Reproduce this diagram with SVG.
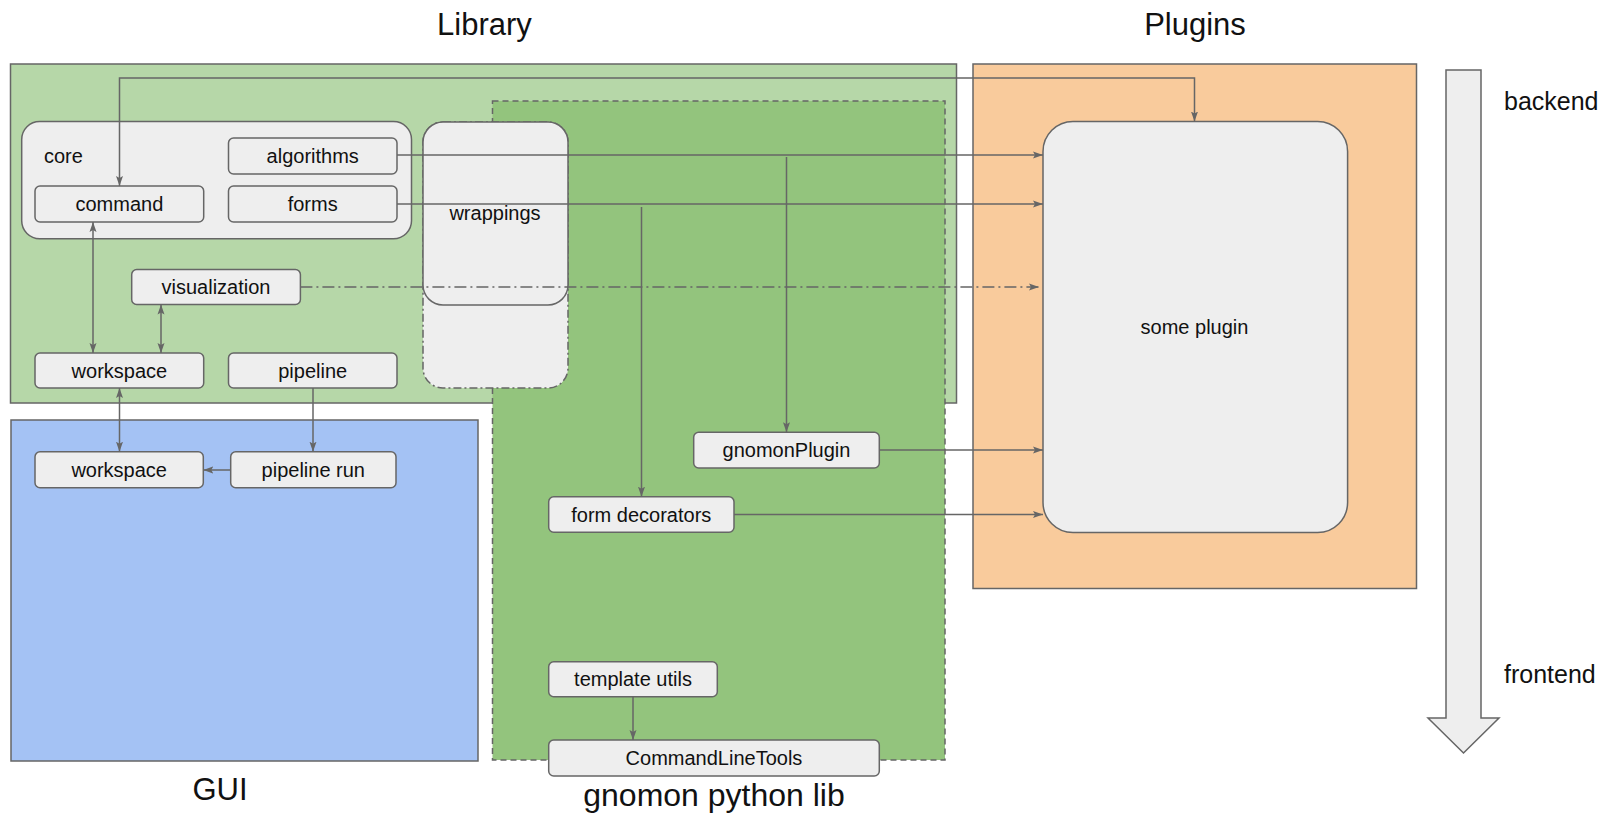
<svg xmlns="http://www.w3.org/2000/svg" width="1613" height="817" viewBox="0 0 1613 817">
<style>
.cont{stroke:#666;stroke-width:1.5}
.node{fill:#eeeeee;stroke:#666;stroke-width:1.5}
.lbl{font-family:"Liberation Sans",Arial,sans-serif;font-size:20px;fill:#111;text-anchor:middle}
.title{font-family:"Liberation Sans",Arial,sans-serif;font-size:31px;fill:#111;text-anchor:middle}
.side{font-family:"Liberation Sans",Arial,sans-serif;font-size:25px;fill:#111}
.conn{fill:none;stroke:#666;stroke-width:1.5}
</style>
<defs>
<marker id="ah" viewBox="0 0 10 8" refX="10" refY="4" markerWidth="10" markerHeight="8" orient="auto-start-reverse" markerUnits="userSpaceOnUse">
<path d="M0,0.5 L10,4 L0,7.5 L2,4 z" fill="#666"/>
</marker>
</defs>
<rect width="1613" height="817" fill="#ffffff"/>
<g id="library">
<rect class="cont" x="10.5" y="64" width="946" height="339" fill="#b6d7a8"/>
</g>
<g id="gnomon-python-lib">
<rect x="492.5" y="101" width="452.5" height="659" fill="#93c47d" stroke="#666" stroke-width="1.5" stroke-dasharray="6,4"/>
<text class="title" x="714" y="806" style="font-size:32px">gnomon python lib</text>
</g>
<g id="gui">
<rect class="cont" x="11" y="420" width="467" height="341" fill="#a4c2f4"/>
<text class="title" x="220" y="800">GUI</text>
</g>
<g id="plugins">
<rect class="cont" x="973" y="64" width="443.5" height="524.5" fill="#f9cb9c"/>
</g>
<text class="title" x="484.5" y="35">Library</text>
<text class="title" x="1195" y="35">Plugins</text>
<g id="core">
<rect class="node" x="21.7" y="121.5" width="389.8" height="117.3" rx="18"/>
<text class="lbl" x="44" y="163" style="text-anchor:start">core</text>
</g>
<g id="algorithms">
<rect class="node" x="228.5" y="138" width="168.5" height="36" rx="5"/>
<text class="lbl" x="312.7" y="163">algorithms</text>
</g>
<g id="command">
<rect class="node" x="35" y="186" width="168.7" height="36" rx="5"/>
<text class="lbl" x="119.4" y="211">command</text>
</g>
<g id="forms">
<rect class="node" x="228.5" y="186" width="168.5" height="36" rx="5"/>
<text class="lbl" x="312.7" y="211">forms</text>
</g>
<g id="wrappings">
<rect x="423" y="122" width="145" height="266" rx="20" fill="#eeeeee" stroke="#666" stroke-width="1.5" stroke-dasharray="8,3,2,3"/>
<rect class="node" x="423" y="122" width="145" height="183" rx="20"/>
<text class="lbl" x="495" y="220">wrappings</text>
</g>
<g id="visualization">
<rect class="node" x="131.7" y="269.5" width="168.7" height="35" rx="5"/>
<text class="lbl" x="216" y="294">visualization</text>
</g>
<g id="workspace-lib">
<rect class="node" x="35" y="353" width="168.7" height="35" rx="5"/>
<text class="lbl" x="119.4" y="377.5">workspace</text>
</g>
<g id="pipeline">
<rect class="node" x="228.5" y="353" width="168.5" height="35" rx="5"/>
<text class="lbl" x="312.7" y="377.5">pipeline</text>
</g>
<g id="workspace-gui">
<rect class="node" x="35" y="451.7" width="168.3" height="36" rx="5"/>
<text class="lbl" x="119.2" y="477">workspace</text>
</g>
<g id="pipeline-run">
<rect class="node" x="230.7" y="451.7" width="165.3" height="36" rx="5"/>
<text class="lbl" x="313.3" y="477">pipeline run</text>
</g>
<g id="gnomonPlugin">
<rect class="node" x="693.7" y="432.3" width="185.6" height="35.7" rx="5"/>
<text class="lbl" x="786.5" y="457">gnomonPlugin</text>
</g>
<g id="form-decorators">
<rect class="node" x="548.7" y="496.7" width="185.3" height="35.6" rx="5"/>
<text class="lbl" x="641.3" y="521.5">form decorators</text>
</g>
<g id="template-utils">
<rect class="node" x="548.7" y="661.7" width="168.6" height="35" rx="5"/>
<text class="lbl" x="633" y="686">template utils</text>
</g>
<g id="CommandLineTools">
<rect class="node" x="548.7" y="740" width="330.6" height="36" rx="5"/>
<text class="lbl" x="714" y="765">CommandLineTools</text>
</g>
<g id="some-plugin">
<rect class="node" x="1043" y="121.5" width="304.6" height="411" rx="30"/>
<text class="lbl" x="1194.5" y="333.5">some plugin</text>
</g>
<g id="backend-frontend">
<polygon points="1446,70 1481,70 1481,718 1499,718 1463.5,753 1428,718 1446,718" fill="#eeeeee" stroke="#666" stroke-width="1.5"/>
<text class="side" x="1504" y="110">backend</text>
<text class="side" x="1504" y="683">frontend</text>
</g>
<g id="connectors">
<path class="conn" d="M119.5,186 V78 H1194.5 V121.5" marker-start="url(#ah)" marker-end="url(#ah)"/>
<path class="conn" d="M397,155 H1043" marker-end="url(#ah)"/>
<path class="conn" d="M397,204 H1043" marker-end="url(#ah)"/>
<path class="conn" d="M300.4,287 H1039" stroke-dasharray="12,4,2,4" marker-end="url(#ah)"/>
<path class="conn" d="M786.5,157 V432.3" marker-end="url(#ah)"/>
<path class="conn" d="M641.5,207 V496.7" marker-end="url(#ah)"/>
<path class="conn" d="M879.3,450 H1043" marker-end="url(#ah)"/>
<path class="conn" d="M734,514.5 H1043" marker-end="url(#ah)"/>
<path class="conn" d="M93,222 V353" marker-start="url(#ah)" marker-end="url(#ah)"/>
<path class="conn" d="M161,304.5 V353" marker-start="url(#ah)" marker-end="url(#ah)"/>
<path class="conn" d="M119.5,388 V451.7" marker-start="url(#ah)" marker-end="url(#ah)"/>
<path class="conn" d="M313,388 V451.7" marker-end="url(#ah)"/>
<path class="conn" d="M230.7,470 H203.3" marker-end="url(#ah)"/>
<path class="conn" d="M633,696.7 V740" marker-end="url(#ah)"/>
</g>
</svg>
